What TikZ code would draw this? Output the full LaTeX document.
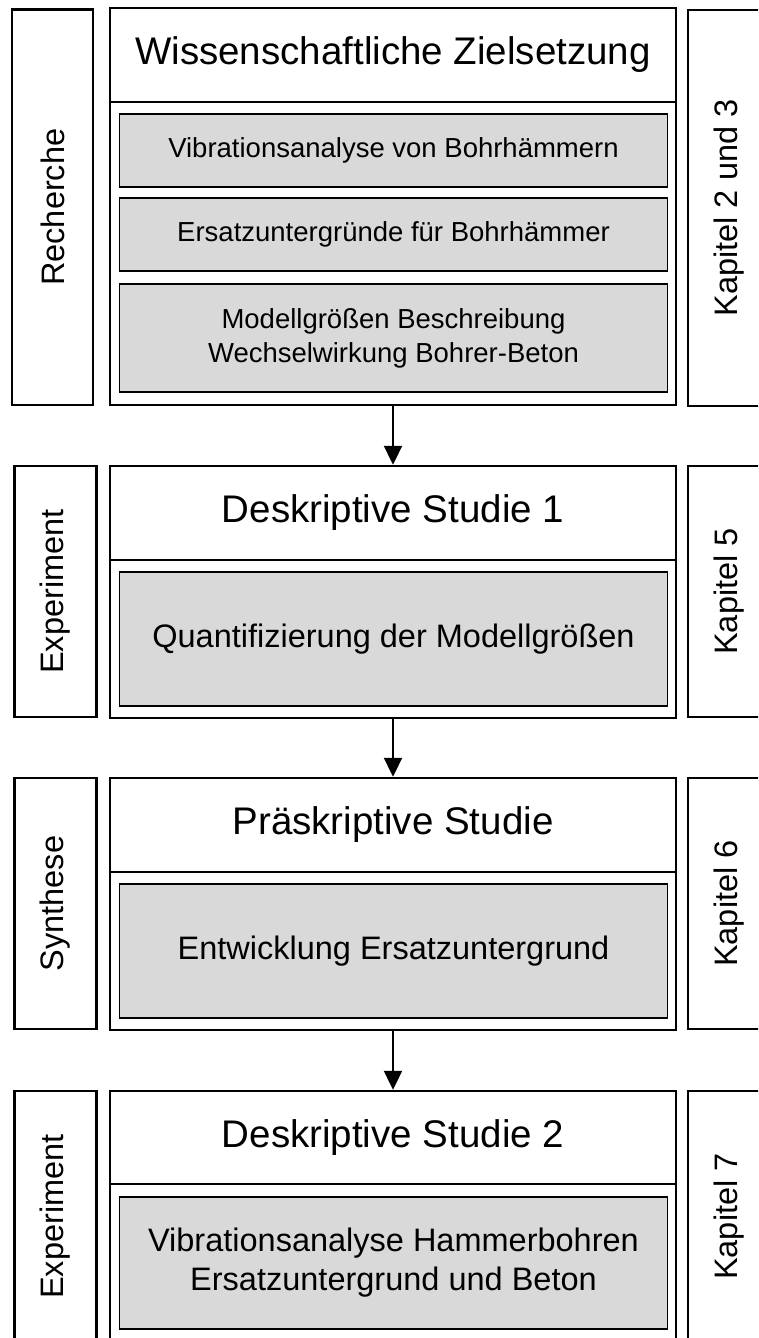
\documentclass[tikz,border=0pt]{standalone}
\usepackage{fontspec}
\setmainfont{Liberation Sans}
\usetikzlibrary{arrows.meta}
\definecolor{graybg}{RGB}{217,217,217}
\tikzset{
  frame/.style={draw=black, line width=2.4pt, fill=white, rectangle, inner sep=0pt},
  graybox/.style={draw=black, line width=1.8pt, fill=graybg, rectangle, inner sep=0pt, align=center},
  headtext/.style={font=\fontsize{38.5}{44}\selectfont},
  smalltext/.style={font=\fontsize{27.5}{34}\selectfont},
  bigtext/.style={font=\fontsize{32.5}{39}\selectfont},
  sidetext/.style={rotate=90, font=\fontsize{32.5}{38}\selectfont, inner sep=0pt},
  flowarrow/.style={draw=black, line width=2pt, -{Triangle[width=18pt,length=19pt]}}
}
\begin{document}
\begin{tikzpicture}[x=1pt, y=-1pt]
\useasboundingbox (0,0) rectangle (758,1338);
\clip (0,0) rectangle (758,1338);
\fill[white] (0,0) rectangle (758,1338);

% ---------- Block 1 ----------
\node[frame, minimum width=81pt, minimum height=395.5pt] (L1) at (52.5,207.25) {};
\node[sidetext] (L1t) at (L1.center) {Recherche};
\node[frame, minimum width=566pt, minimum height=303pt] (B1) at (393,253.5) {};
\node[frame, minimum width=566pt, minimum height=94pt, headtext] (H1) at (393,55) {Wissenschaftliche Zielsetzung};
\node[graybox, minimum width=548pt, minimum height=73pt, smalltext] (G1a) at (393.5,150.5) {Vibrationsanalyse von Bohrhämmern};
\node[graybox, minimum width=548pt, minimum height=73pt, smalltext] (G1b) at (393.5,234.5) {Ersatzuntergründe für Bohrhämmer};
\node[graybox, minimum width=548pt, minimum height=108pt, smalltext] (G1c) at (393.5,338) {Modellgrößen Beschreibung\\Wechselwirkung Bohrer-Beton};
\node[frame, minimum width=82pt, minimum height=396pt] (R1) at (729,208) {};
\node[sidetext] (R1t) at (R1.center) {Kapitel 2 und 3};

% ---------- Block 2 ----------
\node[frame, minimum width=82pt, minimum height=251pt] (L2) at (55.5,591.5) {};
\node[sidetext] (L2t) at (L2.center) {Experiment};
\node[frame, minimum width=566pt, minimum height=158pt] (B2) at (393,639) {};
\node[frame, minimum width=566pt, minimum height=94pt, headtext] (H2) at (393,513) {Deskriptive Studie 1};
\node[graybox, minimum width=548pt, minimum height=134pt, bigtext] (G2) at (393.5,639) {Quantifizierung der Modellgrößen};
\node[frame, minimum width=82pt, minimum height=251pt] (R2) at (729,591.5) {};
\node[sidetext] (R2t) at (R2.center) {Kapitel 5};

% ---------- Block 3 ----------
\node[frame, minimum width=82pt, minimum height=251pt] (L3) at (55.5,903.5) {};
\node[sidetext] (L3t) at (L3.center) {Synthese};
\node[frame, minimum width=566pt, minimum height=158pt] (B3) at (393,951) {};
\node[frame, minimum width=566pt, minimum height=94pt, headtext] (H3) at (393,825) {Präskriptive Studie};
\node[graybox, minimum width=548pt, minimum height=134pt, bigtext] (G3) at (393.5,951) {Entwicklung Ersatzuntergrund};
\node[frame, minimum width=82pt, minimum height=251pt] (R3) at (729,903.5) {};
\node[sidetext] (R3t) at (R3.center) {Kapitel 6};

% ---------- Block 4 ----------
\node[frame, minimum width=82pt, minimum height=251pt] (L4) at (55.5,1216.5) {};
\node[sidetext] (L4t) at (L4.center) {Experiment};
\node[frame, minimum width=566pt, minimum height=158pt] (B4) at (393,1263) {};
\node[frame, minimum width=566pt, minimum height=93pt, headtext] (H4) at (393,1137.5) {Deskriptive Studie 2};
\node[graybox, minimum width=548pt, minimum height=132pt, bigtext] (G4) at (393.5,1263) {Vibrationsanalyse Hammerbohren\\Ersatzuntergrund und Beton};
\node[frame, minimum width=82pt, minimum height=251pt] (R4) at (729,1216.5) {};
\node[sidetext] (R4t) at (R4.center) {Kapitel 7};

% ---------- Arrows ----------
\draw[flowarrow] (B1.south) -- (H2.north);
\draw[flowarrow] (B2.south) -- (H3.north);
\draw[flowarrow] (B3.south) -- (H4.north);
\end{tikzpicture}
\end{document}
